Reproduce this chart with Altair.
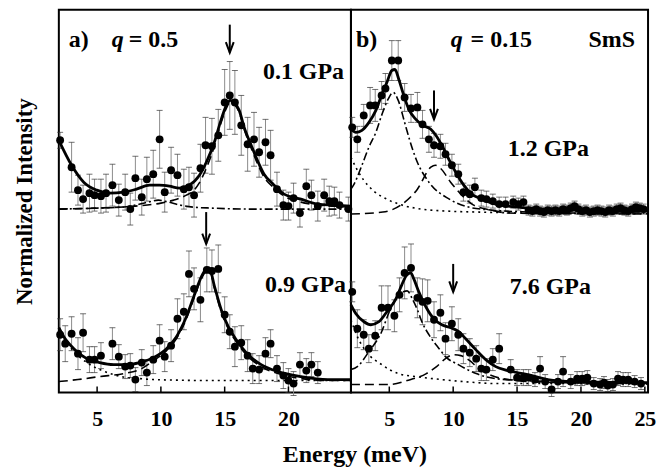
import altair as alt
import pandas as pd

FONT = "Liberation Serif"
H = 384                      # plot height (px); y units are arbitrary intensity
W_LEFT, W_RIGHT = 293, 298
X_LEFT = [2.0, 24.9]
X_RIGHT = [2.0, 25.25]

# ---------------- panel a) q = 0.5 ----------------
# 0.1 GPa (upper spectrum)
a1_E = [2.1, 3.0, 3.5, 3.9, 4.4, 4.8, 5.3, 5.7, 6.2, 6.7, 7.2, 7.6, 8.0, 8.5, 8.9, 9.4, 9.9, 10.3, 10.8,
        11.3, 11.8, 12.2, 12.6, 13.1, 13.5, 14.0, 14.5, 15.0, 15.4, 15.8, 16.3, 16.8, 17.3, 17.7, 18.2,
        18.6, 19.1, 19.6, 20.0, 20.4, 20.9, 21.4, 21.8, 22.3, 22.8, 23.2, 23.6, 24.0, 24.7]
a1_I = [70, 43, 20, 11, 17, 15, 14, 17, 25, 10, 18, 1, 32, 13, 31, 36, 71, 18, 40,
        35, 21, 23, 15, 42, 65, 64, 75, 108, 115, 108, 85, 66, 71, 58, 68,
        55, 21, 5, 4, 12, -3, 24, 15, 4, 15, 9, 9, 5, 1]
a1_err = [8, 25, 15, 14, 19, 16, 17, 19, 21, 16, 18, 16, 22, 18, 22, 24, 29, 20, 23,
          21, 20, 20, 22, 24, 28, 28, 26, 33, 34, 32, 30, 27, 27, 25, 23,
          25, 17, 15, 14, 15, 14, 17, 15, 15, 16, 15, 14, 13, 12]
a1_fit_E = [2.0, 3.0, 3.95, 4.97, 5.98, 7.08, 8.09, 9.11, 9.89, 10.67, 11.45, 12.23, 13.02, 13.56, 14.19,
            14.73, 15.13, 15.44, 15.75, 16.14, 16.53, 17.08, 17.63, 18.09, 18.8, 19.66, 20.98, 22.31, 23.56, 24.9]
a1_fit_I = [70, 45, 28, 20, 17, 18, 21, 25, 25, 24, 22, 25, 35, 48, 68,
            91, 105, 110, 108, 100, 83, 65, 48, 36, 26, 16, 11, 6, 5, 4]
a1_dash_E = [2.0, 5.0, 8.0, 10.0, 11.0, 12.0, 12.6, 13.0, 13.56, 14.19, 14.73, 15.13, 15.44, 15.75, 16.14,
             16.53, 17.08, 17.63, 18.09, 18.8, 19.66, 20.98, 22.31, 23.56, 24.9]
a1_dash_I = [1, 2, 4, 7, 10, 15, 20, 27, 42, 64, 88, 102, 108, 106, 98,
             81, 62, 45, 33, 23, 14, 8, 5, 4, 3]
a1_dd_E = [2.0, 5.0, 7.0, 8.0, 9.0, 9.8, 10.6, 11.5, 12.5, 14.0, 17.0, 24.9]
a1_dd_I = [1, 2, 3, 5, 8, 10, 8, 5, 3, 2, 1, 1]

# 0.9 GPa (lower spectrum)
a2_E = [2.1, 2.5, 3.0, 3.5, 3.9, 4.4, 4.8, 5.3, 6.2, 6.7, 7.2, 7.6, 8.0, 8.5, 8.9, 9.4, 9.9, 10.3, 10.8,
        11.3, 11.8, 12.2, 12.6, 13.1, 13.6, 14.0, 14.5, 15.0, 15.4, 15.8, 16.3, 16.8, 17.2, 17.7, 18.2,
        18.6, 19.1, 19.6, 20.0, 20.4, 20.9, 21.4, 21.8, 22.3]
a2_I = [47, 38, 48, 28, 49, 22, 22, 26, 38, 25, 15, 16, 2, 19, 9, 22, 41, 25, 36,
        63, 70, 108, 93, 82, 112, 111, 113, 67, 50, 35, 39, 26, 13, 12, 28,
        38, 13, 6, 1, -2, 17, 11, 17, 9]
a2_err = [16, 18, 17, 16, 19, 13, 13, 13, 16, 12, 12, 12, 12, 13, 13, 14, 16, 15, 16,
          20, 18, 23, 21, 22, 22, 21, 24, 18, 17, 20, 17, 16, 15, 14, 16,
          14, 13, 13, 12, 12, 12, 12, 12, 11]
a2_fit_E = [2.0, 2.39, 3.17, 4.19, 5.2, 6.3, 7.31, 8.33, 9.42, 10.44, 11.22, 12.0, 12.63, 13.17, 13.56,
            13.8, 14.19, 14.73, 15.28, 15.91, 16.84, 17.86, 19.19, 20.98, 23.09, 24.9]
a2_fit_I = [54, 45, 33, 23, 19, 17, 17, 19, 24, 33, 45, 65, 87, 105, 113,
            114, 96, 72, 55, 42, 27, 17, 10, 5, 2, 2]
a2_dot_E = [2.0, 2.4, 3.2, 4.2, 5.2, 6.3, 7.3, 8.3, 9.4, 11.0, 14.0, 18.0, 24.9]
a2_dot_I = [54, 43, 30, 19, 12, 7, 4, 3, 2, 1.5, 1, 1, 1]
a2_dash_E = [2.0, 3.5, 5.2, 7.1, 8.5, 9.42, 10.44, 11.22, 12.0, 12.63, 13.17, 13.56, 13.8, 14.19, 14.73,
             15.28, 15.91, 16.84, 17.86, 19.19, 20.98, 23.09, 24.9]
a2_dash_I = [0, 2, 5, 8, 13, 21, 31, 43, 63, 85, 103, 111, 112, 94, 70,
             53, 40, 25, 15, 8, 3, 1, 1]

# ---------------- panel b) q = 0.15 ----------------
# 1.2 GPa (upper spectrum)
b1_E = [2.1, 2.5, 3.0, 3.5, 3.9, 4.4, 4.7, 5.2, 5.7, 6.2, 6.7, 7.2, 7.6, 8.1, 8.5, 9.0, 9.4, 9.9, 10.4,
        10.8, 11.3, 11.7, 12.2, 12.6, 13.1, 13.6, 14.1, 14.7, 15.1, 15.5,
        15.9, 16.2, 16.5, 16.8, 17.1, 17.4, 17.7, 18.0, 18.3, 18.6, 18.9, 19.2, 19.5, 19.8, 20.1, 20.4,
        20.7, 21.0, 21.3, 21.6, 21.9, 22.2, 22.5, 22.8, 23.1, 23.4, 23.7, 24.0, 24.3, 24.6, 24.9]
b1_I = [87, 75, 99, 109, 109, 119, 126, 154, 154, 117, 106, 107, 90, 75, 69, 68, 60, 49, 40,
        22, 20, 27, 16, 15, 13, 10, 10, 12, 10, 12,
        4, 3, 5, 3, 2, 4, 3, 4, 3, 5, 4, 6, 8, 5, 3, 4,
        2, 3, 4, 3, 2, 4, 3, 5, 6, 4, 3, 5, 7, 6, 5]
b1_err = [10, 13, 11, 18, 16, 14, 15, 20, 20, 14, 14, 15, 14, 13, 12, 12, 11, 11, 10,
          9, 9, 9, 8, 8, 7, 7, 7, 6, 6, 6,
          5, 5, 5, 5, 5, 5, 5, 5, 5, 5, 5, 5, 5, 5, 5, 5,
          5, 5, 5, 5, 5, 5, 5, 5, 5, 5, 5, 5, 5, 5, 5]
b1_fit_E = [2.0, 2.39, 2.86, 3.41, 3.95, 4.42, 4.81, 5.2, 5.44, 5.75, 6.06, 6.53, 7.08, 7.63, 8.25,
            8.64, 9.11, 9.66, 10.2, 10.83, 11.45, 12.23, 13.33, 15.0, 17.0, 20.0, 25.25]
b1_fit_I = [85, 82, 84, 92, 104, 120, 132, 144, 145, 135, 122, 105, 95, 89, 85,
            79, 69, 55, 42, 29, 20, 15, 10, 7, 5, 4, 3]
b1_dd_E = [2.0, 2.2, 2.86, 3.4, 3.95, 4.4, 4.9, 5.3, 5.7, 6.2, 6.6, 7.1, 8.1, 9.7, 11.2, 13.0, 16.0, 20.0, 25.25]
b1_dd_I = [25, 29, 49, 67, 82, 99, 115, 122, 114, 92, 74, 55, 32, 15, 7, 4, 2, 1, 1]
b1_dot_E = [2.0, 2.5, 3.0, 3.8, 4.8, 6.0, 7.5, 9.5, 12.0, 16.0, 25.25]
b1_dot_I = [57, 44, 34, 23, 15, 9, 5, 3, 2, 1, 0.5]
b1_dash_E = [2.0, 4.5, 5.9, 7.2, 8.25, 8.6, 9.0, 9.8, 10.6, 11.6, 13.0, 14.3, 25.25]
b1_dash_I = [0, 2, 9, 25, 47, 49, 46, 32, 20, 9, 4, 1, 0]

# 7.6 GPa (lower spectrum)
b2_E = [2.1, 2.5, 3.0, 3.4, 3.9, 4.4, 4.9, 5.4, 5.8, 6.2, 6.7, 7.2, 7.6, 8.0, 8.5, 9.0, 9.4, 9.9, 10.4,
        10.8, 11.3, 11.8, 12.2, 12.6, 13.1, 13.6, 14.5, 15.0, 15.5, 15.9, 16.4, 16.8, 17.2, 17.7, 18.2,
        18.6, 19.2, 19.7, 20.1, 20.5, 21.0, 21.5, 21.8, 22.1, 22.5, 22.9, 23.3, 23.7, 24.2, 24.7]
b2_I = [93, 56, 50, 36, 49, 77, 77, 69, 90, 112, 117, 87, 83, 84, 65, 72, 46, 61, 50,
        36, 32, 26, 16, 15, 25, 36, 15, 7, 7, 7, 5, 16, 3, -5, 3,
        13, 3, 6, 6, 7, 1, 0, 2, -1, 0, 6, 5, 5, 3, 1]
b2_err = [10, 19, 15, 14, 15, 22, 22, 16, 17, 26, 24, 20, 23, 21, 18, 18, 16, 17, 16,
          15, 14, 13, 12, 11, 11, 15, 10, 8, 8, 8, 7, 12, 7, 7, 7,
          15, 7, 7, 7, 7, 6, 6, 6, 6, 6, 7, 7, 7, 6, 6]
b2_fit_E = [2.0, 2.39, 3.02, 3.56, 4.19, 4.81, 5.52, 5.98, 6.37, 6.69, 6.92, 7.31, 7.86, 8.48, 9.11,
            9.81, 10.44, 10.98, 11.77, 12.55, 13.33, 14.27, 15.83, 17.39, 19.42, 25.25]
b2_fit_I = [80, 71, 63, 60, 63, 73, 86, 100, 110, 112, 106, 93, 78, 66, 60,
            57, 53, 46, 35, 25, 18, 14, 10, 5, 3, 2]
b2_dd_E = [2.0, 2.5, 3.4, 4.4, 5.0, 5.6, 6.1, 6.4, 6.8, 7.2, 7.55, 8.1, 8.9, 9.4, 10.4, 11.8, 13.3, 15.5, 19.0, 25.25]
b2_dd_I = [15, 18, 33, 53, 73, 88, 93, 94, 86, 75, 63, 50, 36, 28, 20, 11, 6, 4, 2, 1]
b2_dot_E = [2.0, 2.5, 3.2, 4.4, 5.7, 7.1, 9.1, 11.8, 13.3, 18.0, 25.25]
b2_dot_I = [65, 48, 33, 20, 11, 8, 5, 2, 1, 1, 0.5]
b2_dash_E = [2.0, 5.0, 6.4, 7.9, 8.7, 9.4, 10.0, 10.6, 11.3, 12.0, 13.0, 15.0, 18.0, 25.25]
b2_dash_I = [0, 0, 4, 11, 18, 26, 30, 29, 24, 16, 9, 4, 2, 1]

# tick values
a_ticks = [5, 10, 15, 20]
b_ticks = [5, 10, 15, 20, 25]

# vertical offsets of the spectra (layout)
OFF = {"a1": 183, "a2": 11, "b1": 179, "b2": 8}
# arrow energies (peak markers) and their vertical extents (intensity units incl. offset)
arrows_a = {"E": [15.4, 13.55], "top": [369, 181], "tip": [341, 149]}
arrows_b = {"E": [8.5, 10.0], "top": [303, 129], "tip": [274, 101]}


def pts(E, I, err, off, key):
    return pd.DataFrame({"E": E, "I": [v + off for v in I],
                         "lo": [v + off - e for v, e in zip(I, err)],
                         "hi": [v + off + e for v, e in zip(I, err)], "s": key})


def curve(E, I, off, key):
    return pd.DataFrame({"E": E, "I": [v + off for v in I], "s": key})


def panel(width, xdom, ticks, pdf, solid, dashed, dashdot, dotted, arrows, texts, yaxis):
    xs = alt.Scale(domain=xdom, nice=False, zero=False)
    ys = alt.Scale(domain=[0, H], nice=False, zero=False)
    xax = alt.Axis(values=list(ticks), labelFont=FONT, labelFontSize=22, labelFontWeight="bold",
                   labelColor="black", ticks=False, domain=False, grid=False, title=None,
                   labelPadding=16, format="d")
    X = alt.X("E:Q", scale=xs, axis=xax)

    def Yf(field):
        return alt.Y(field + ":Q", scale=ys, axis=yaxis)

    base = alt.Chart(pdf)
    bars = base.mark_rule(color="#8c8c8c", strokeWidth=1).encode(x=X, y=Yf("lo"), y2="hi:Q")
    caps_lo = base.mark_tick(orient="horizontal", size=6, thickness=1, color="#333333").encode(
        x=X, y=Yf("lo"))
    caps_hi = base.mark_tick(orient="horizontal", size=6, thickness=1, color="#333333").encode(
        x=X, y=Yf("hi"))
    dots = base.mark_circle(size=62, color="black", opacity=1).encode(x=X, y=Yf("I"))

    def line(df, dash, sw):
        kw = dict(color="black", strokeWidth=sw, interpolate="monotone")
        if dash:
            kw["strokeDash"] = dash
        return alt.Chart(df).mark_line(**kw).encode(x=X, y=Yf("I"), detail="s:N")

    layers = [bars, caps_lo, caps_hi, dots,
              line(dotted, [2, 4], 1.6),
              line(dashdot, [8, 3, 2, 3], 1.6),
              line(dashed, [9, 5], 1.6),
              line(solid, None, 2.8)]
    ticks_df = pd.DataFrame({"E": [t for t in ticks if t < xdom[1]]})
    layers.append(alt.Chart(ticks_df).mark_rule(color="black", strokeWidth=1.5).encode(
        x=X, y=alt.value(H), y2=alt.value(H - 6)))
    adf = pd.DataFrame(arrows)
    layers.append(alt.Chart(adf).mark_rule(color="black", strokeWidth=2).encode(
        x=X, y=Yf("top"), y2="tip:Q"))
    layers.append(alt.Chart(adf).mark_point(shape="M -0.75 -2 L 0 0 L 0.75 -2", size=110, filled=False,
                                            color="black", strokeWidth=2, opacity=1).encode(
        x=X, y=Yf("tip")))
    for (t, px, py, align, style) in texts:
        layers.append(alt.Chart(pd.DataFrame({"t": [t]})).mark_text(
            font=FONT, fontSize=24, fontWeight="bold", fontStyle=style, align=align, baseline="middle",
            color="black").encode(text="t:N", x=alt.value(px), y=alt.value(py)))
    return alt.layer(*layers).properties(width=width, height=H)


a_pts = pd.concat([pts(a1_E, a1_I, a1_err, OFF["a1"], "a1"), pts(a2_E, a2_I, a2_err, OFF["a2"], "a2")])
a_solid = pd.concat([curve(a1_fit_E, a1_fit_I, OFF["a1"], "a1"), curve(a2_fit_E, a2_fit_I, OFF["a2"], "a2")])
a_dash = pd.concat([curve(a1_dash_E, a1_dash_I, OFF["a1"], "a1"), curve(a2_dash_E, a2_dash_I, OFF["a2"], "a2")])
a_dd = curve(a1_dd_E, a1_dd_I, OFF["a1"], "a1")
a_dot = curve(a2_dot_E, a2_dot_I, OFF["a2"], "a2")

b_pts = pd.concat([pts(b1_E, b1_I, b1_err, OFF["b1"], "b1"), pts(b2_E, b2_I, b2_err, OFF["b2"], "b2")])
b_solid = pd.concat([curve(b1_fit_E, b1_fit_I, OFF["b1"], "b1"), curve(b2_fit_E, b2_fit_I, OFF["b2"], "b2")])
b_dash = pd.concat([curve(b1_dash_E, b1_dash_I, OFF["b1"], "b1"), curve(b2_dash_E, b2_dash_I, OFF["b2"], "b2")])
b_dd = pd.concat([curve(b1_dd_E, b1_dd_I, OFF["b1"], "b1"), curve(b2_dd_E, b2_dd_I, OFF["b2"], "b2")])
b_dot = pd.concat([curve(b1_dot_E, b1_dot_I, OFF["b1"], "b1"), curve(b2_dot_E, b2_dot_I, OFF["b2"], "b2")])

yaxis_left = alt.Axis(title="Normalized Intensity", labels=False, ticks=False, domain=False, grid=False,
                      titleFont=FONT, titleFontSize=23, titleFontWeight="bold", titleColor="black",
                      titlePadding=22)

a_texts = [("a)", 10, 30, "left", "normal"), ("q", 53, 30, "left", "italic"),
           ("= 0.5", 70, 30, "left", "normal"),
           ("0.1 GPa", 286, 63, "right", "normal"), ("0.9 GPa", 288, 276, "right", "normal")]
b_texts = [("b)", 5, 30, "left", "normal"), ("q", 100, 30, "left", "italic"),
           ("= 0.15", 120, 30, "left", "normal"), ("SmS", 285, 30, "right", "normal"),
           ("1.2 GPa", 198, 140, "center", "normal"), ("7.6 GPa", 200, 278, "center", "normal")]

left = panel(W_LEFT, X_LEFT, a_ticks, a_pts, a_solid, a_dash, a_dd, a_dot, arrows_a, a_texts, yaxis_left)
right = panel(W_RIGHT, X_RIGHT, b_ticks, b_pts, b_solid, b_dash, b_dd, b_dot, arrows_b, b_texts, None)

chart = alt.hconcat(left, right, spacing=0, bounds="flush").properties(
    title=alt.TitleParams("Energy (meV)", orient="bottom", anchor="middle", font=FONT, fontSize=24,
                          fontWeight="bold", color="black", dx=20, offset=13)
).configure(padding={"left": 5, "top": 0, "right": 5, "bottom": 0}, background="white"
).configure_view(stroke="black", strokeWidth=2)

chart.save("out.html", embed_options={"renderer": "svg", "actions": False})
